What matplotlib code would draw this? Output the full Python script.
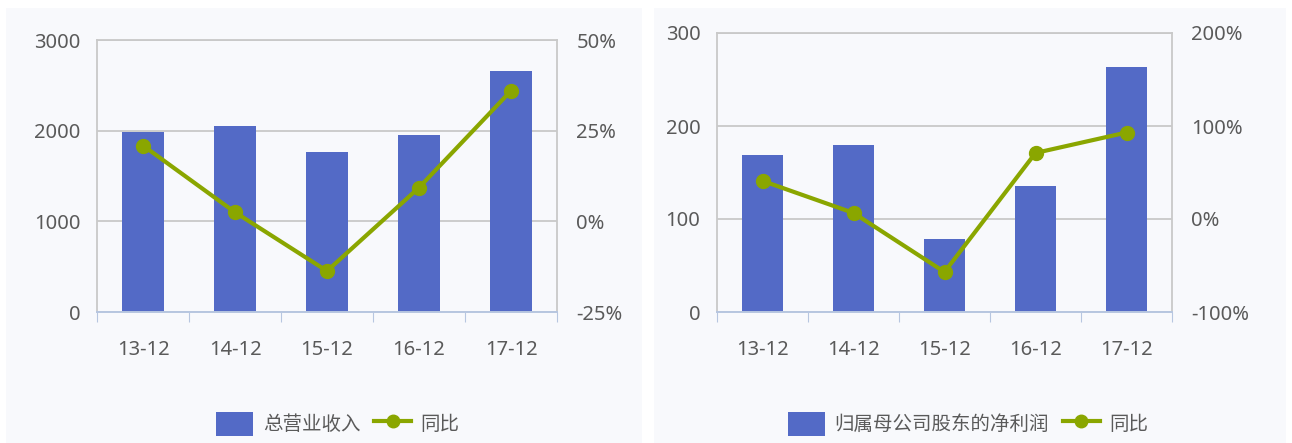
import matplotlib
matplotlib.use("Agg")
import matplotlib.pyplot as plt
from matplotlib.patches import Rectangle, FancyBboxPatch
from matplotlib.lines import Line2D
from matplotlib.ticker import FuncFormatter

plt.rcParams['font.family'] = ['Noto Sans', 'Noto Sans CJK SC', 'DejaVu Sans']

# data
periods = ["13-12", "14-12", "15-12", "16-12", "17-12"]
revenue = [1990, 2055, 1770, 1955, 2660]
revenue_yoy = [20.9, 2.5, -13.7, 9.3, 36.0]
profit = [169, 180, 78, 135, 263]
profit_yoy = [41, 6.5, -57, 71, 93]

BAR = "#536ac6"
LINE = "#8aa600"
TXT = "#5a5a5a"
BG = "#f8f9fc"
GRID = "#c9c9c9"
AXIS = "#b7c6e0"
FS = 14.5

W, H = 1292, 443
fig = plt.figure(figsize=(W / 100, H / 100), dpi=100, facecolor="white")

# panel backgrounds
fig.patches.append(Rectangle((6 / W, 0), 636 / W, 435 / H, transform=fig.transFigure,
                             facecolor=BG, edgecolor="none", zorder=-10))
fig.patches.append(Rectangle((654 / W, 0), 632 / W, 435 / H, transform=fig.transFigure,
                             facecolor=BG, edgecolor="none", zorder=-10))


def panel(rect, bars, yoy, ymax, ystep, ylim2, ystep2, label, legx):
    ax = fig.add_axes(rect)
    ax.set_facecolor("none")
    x = list(range(len(periods)))
    ax.bar(x, bars, width=0.46, color=BAR, zorder=2)
    ax.set_xlim(-0.5, len(periods) - 0.5)
    ax.set_ylim(0, ymax)
    ax.set_yticks(range(0, ymax + 1, ystep))
    ax.grid(axis="y", color=GRID, linewidth=1.3, zorder=0)
    ax.set_axisbelow(True)
    ax.set_xticks([i - 0.5 for i in range(len(periods) + 1)])
    ax.set_xticklabels([])
    ax.set_xticks(x, minor=True)
    ax.set_xticklabels(periods, minor=True)
    ax.tick_params(axis="x", which="major", length=7, color=AXIS, direction="out")
    ax.tick_params(axis="x", which="minor", length=0, pad=20, labelsize=FS, labelcolor=TXT)
    ax.tick_params(axis="y", length=0, pad=12, labelsize=FS, labelcolor=TXT)
    for s in ["left", "top", "right"]:
        ax.spines[s].set_color(GRID)
        ax.spines[s].set_linewidth(1.3)
    ax.spines["bottom"].set_color(AXIS)
    ax.spines["bottom"].set_linewidth(1.4)

    ax2 = ax.twinx()
    ax2.plot(x, yoy, color=LINE, linewidth=3, marker="o", markersize=10, zorder=5)
    ax2.set_ylim(*ylim2)
    ax2.set_yticks(range(ylim2[0], ylim2[1] + 1, ystep2))
    ax2.yaxis.set_major_formatter(FuncFormatter(lambda v, p: f"{v:.0f}%"))
    ax2.tick_params(axis="y", length=0, pad=14, labelsize=FS, labelcolor=TXT)
    for s in ax2.spines.values():
        s.set_visible(False)

    handles = [FancyBboxPatch((0, 0), 1, 1, boxstyle="round,pad=0,rounding_size=0.15",
                              facecolor=BAR, edgecolor="none"),
               Line2D([], [], color=LINE, linewidth=3, marker="o", markersize=9)]
    fig.legend(handles, [label, "同比"], loc="center", bbox_to_anchor=(legx, 19 / H),
               ncol=2, frameon=False, fontsize=14, labelcolor=TXT,
               handlelength=1.9, handleheight=1.5, handletextpad=0.5, columnspacing=0.7)
    return ax


panel([97 / W, 131 / H, 460 / W, 272 / H], revenue, revenue_yoy, 3000, 1000,
      (-25, 50), 25, "总营业收入", 338 / W)
panel([717 / W, 131 / H, 455 / W, 279 / H], profit, profit_yoy, 300, 100,
      (-100, 200), 100, "归属母公司股东的净利润", 968 / W)

fig.savefig("out.png", dpi=100, facecolor="white")
